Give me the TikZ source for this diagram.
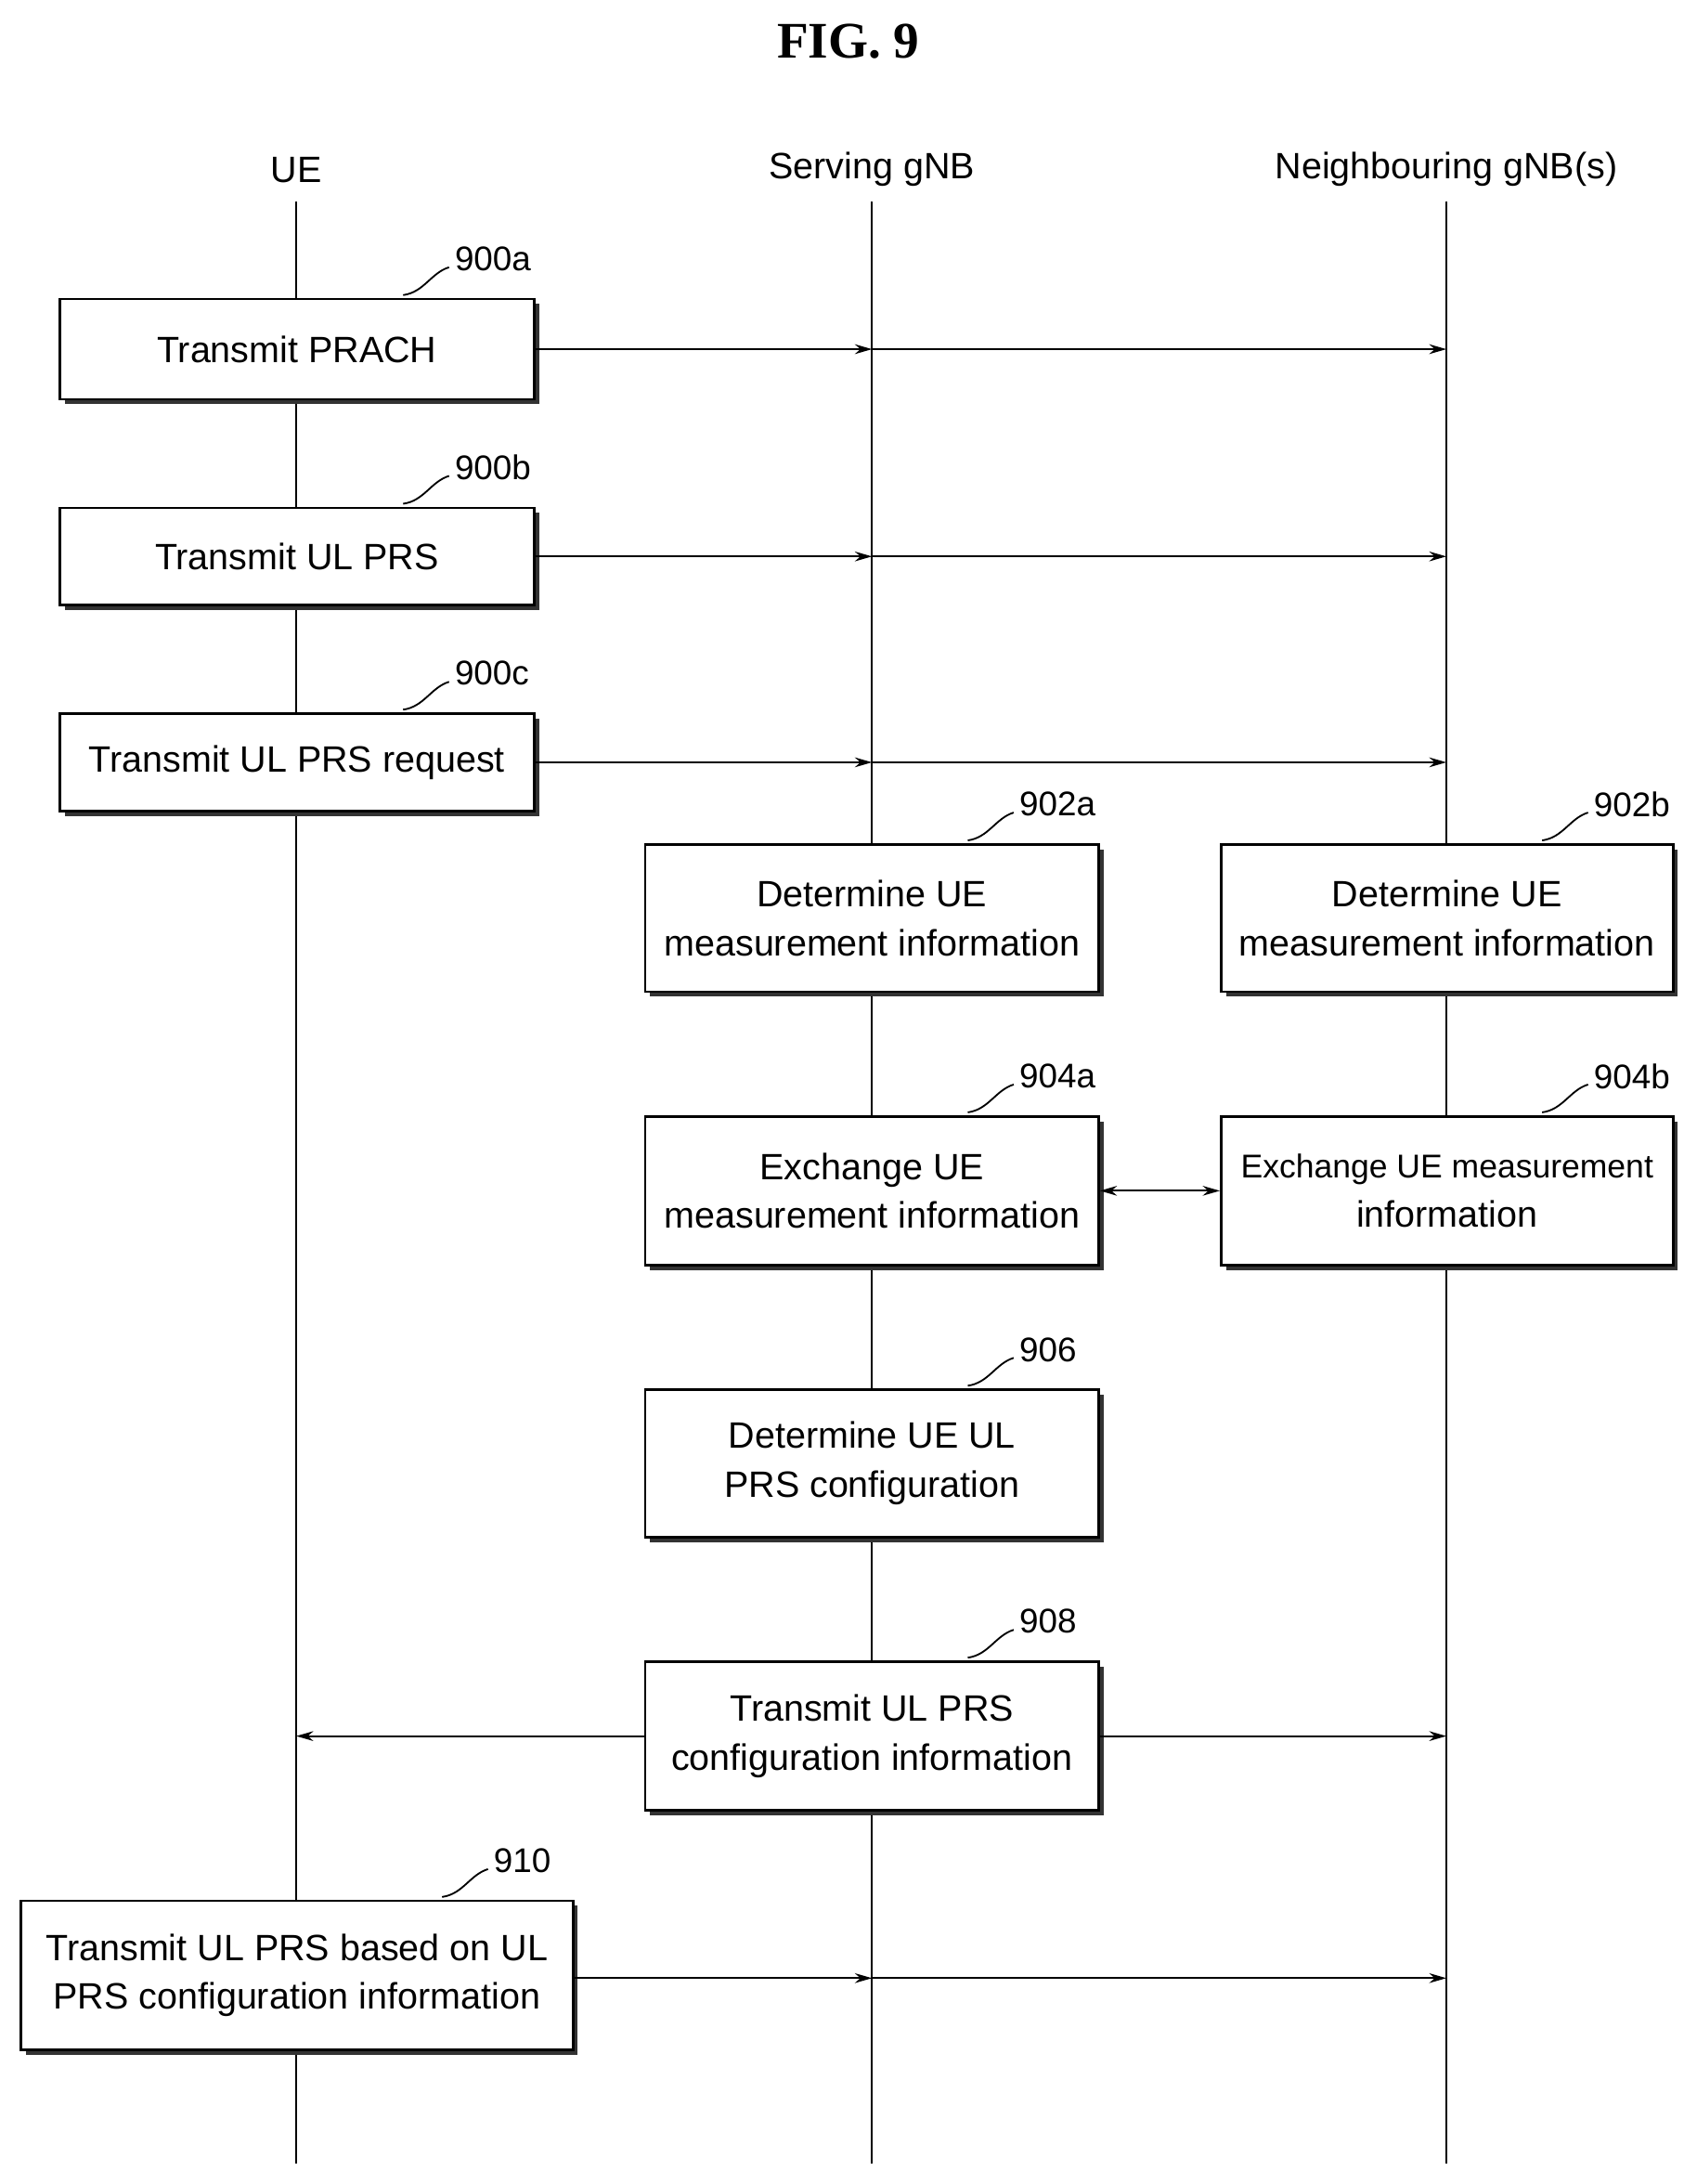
\documentclass[tikz,border=0pt]{standalone}
\usepackage{fontspec}
\setmainfont{Liberation Serif}
\newfontfamily\lab{Liberation Sans}
\usetikzlibrary{arrows.meta,shadows,calc}
\begin{document}
\begin{tikzpicture}[x=0.02cm,y=-0.02cm,
  box/.style={draw,line width=1pt,fill=white,align=center,inner sep=0pt,font=\lab\fontsize{15}{20}\selectfont,
    drop shadow={shadow xshift=2pt,shadow yshift=-2pt,fill=black!80,opacity=1}},
  life/.style={line width=0.8pt},
  msg/.style={line width=0.8pt,-{Stealth[length=7pt,width=4pt]}},
  dmsg/.style={line width=0.8pt,{Stealth[length=7pt,width=4pt]}-{Stealth[length=7pt,width=4pt]}},
  hdr/.style={font=\lab\fontsize{15}{18}\selectfont},
  num/.style={font=\lab\fontsize{14}{16}\selectfont,anchor=west},
  lead/.style={line width=0.7pt}]
\useasboundingbox (0,0) rectangle (1220,1570);
\node[font=\bfseries\fontsize{21}{24}\selectfont] (title) at (610,30) {FIG. 9};
\node[hdr] (hUE) at (213,122) {UE};
\node[hdr] (hS) at (627,122) {Serving gNB};
\node[hdr] (hN) at (1040,122) {Neighbouring gNB(s)};
\coordinate (uT) at (213,145); \coordinate (uB) at (213,1555);
\coordinate (sT) at (627,145); \coordinate (sB) at (627,1555);
\coordinate (nT) at (1040,145); \coordinate (nB) at (1040,1555);
\draw[life] (uT)--(uB); \draw[life] (sT)--(sB); \draw[life] (nT)--(nB);
\newcommand{\bx}[6]{\node[box,minimum width=#3*0.02cm,minimum height=#4*0.02cm] (#1) at (#2) {#5};
  \draw[lead] ($(#1.north east)+(-95,-2)$) .. controls ($(#1.north east)+(-80,-4)$) and ($(#1.north east)+(-75,-18)$) .. ($(#1.north east)+(-62,-22)$);
  \node[num] (l#1) at ($(#1.north east)+(-64,-28)$) {#6};}
\bx{a}{213.5,251}{341}{72}{Transmit PRACH}{900a}
\bx{b}{213.5,400}{341}{70}{Transmit UL PRS}{900b}
\bx{c}{213.5,548}{341}{70}{Transmit UL PRS request}{900c}
\bx{d}{627,660}{326}{106}{Determine UE\\measurement information}{902a}
\bx{e}{1040.5,660}{325}{106}{Determine UE\\measurement information}{902b}
\bx{f}{627,856}{326}{107}{Exchange UE\\measurement information}{904a}
\bx{g}{1040.5,856}{325}{107}{\fontsize{13.5}{20}\selectfont Exchange UE measurement\\\fontsize{15}{20}\selectfont information}{904b}
\bx{h}{627,1052}{326}{106}{Determine UE UL\\PRS configuration}{906}
\bx{i}{627,1248}{326}{107}{Transmit UL PRS\\configuration information}{908}
\bx{j}{213.5,1420}{397}{107}{Transmit UL PRS based on UL\\PRS configuration information}{910}
\foreach \n/\y in {a/251,b/400,c/548,j/1422}{
  \coordinate (s\n) at (627,\y); \coordinate (n\n) at (1040,\y);
  \draw[msg] (\n.east|-s\n) -- (s\n);
  \draw[msg] (s\n) -- (n\n);}
\draw[dmsg] (f) -- (g);
\coordinate (ui) at (213,1248); \coordinate (ni) at (1040,1248);
\draw[msg] (i.west) -- (ui);
\draw[msg] (i.east) -- (ni);
\end{tikzpicture}
\end{document}
